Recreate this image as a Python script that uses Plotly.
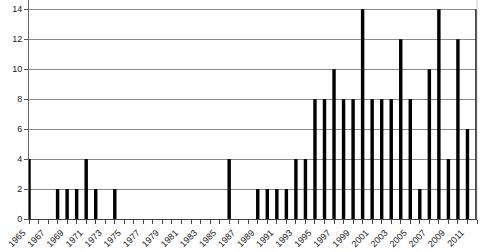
import plotly.graph_objects as go

years = list(range(1965, 2013))
counts = {
    1965: 4, 1968: 2, 1969: 2, 1970: 2, 1971: 4, 1972: 2, 1974: 2,
    1986: 4, 1989: 2, 1990: 2, 1991: 2, 1992: 2, 1993: 4, 1994: 4,
    1995: 8, 1996: 8, 1997: 10, 1998: 8, 1999: 8, 2000: 14, 2001: 8,
    2002: 8, 2003: 8, 2004: 12, 2005: 8, 2006: 2, 2007: 10, 2008: 14,
    2009: 4, 2010: 12, 2011: 6, 2012: 14,
}
values = [counts.get(y, 0) for y in years]
tick_labels = [str(y) if (y - 1965) % 2 == 0 else "" for y in years]
y_ticks = [0, 2, 4, 6, 8, 10, 12, 14]

fig = go.Figure(go.Bar(x=years, y=values, width=0.36, marker=dict(color="black", line=dict(width=0))))

fig.update_layout(
    width=480, height=252,
    margin=dict(l=29, r=3, t=0, b=33),
    paper_bgcolor="white", plot_bgcolor="white",
    showlegend=False,
    font=dict(family="Liberation Sans, Arial", size=9, color="#222"),
    xaxis=dict(
        range=[1965, 2012], tickmode="array", tickvals=years, ticktext=tick_labels,
        tickangle=-45, ticks="outside", ticklen=4, tickcolor="#444",
        ticklabelshift=-6,
        showline=True, linecolor="#444", linewidth=1, showgrid=False, zeroline=False,
        tickfont=dict(size=9),
    ),
    yaxis=dict(
        range=[0, 14.62], tickmode="array", tickvals=y_ticks,
        ticks="outside", ticklen=4, tickcolor="#555",
        showline=True, linecolor="#666", linewidth=1,
        showgrid=True, gridcolor="#8a8a8a", gridwidth=1, zeroline=False,
        tickfont=dict(size=9),
    ),
    shapes=[dict(type="line", xref="paper", yref="paper", x0=1, x1=1, y0=0, y1=1,
                 line=dict(color="#cccccc", width=1))],
)

fig.write_html("out.html")
